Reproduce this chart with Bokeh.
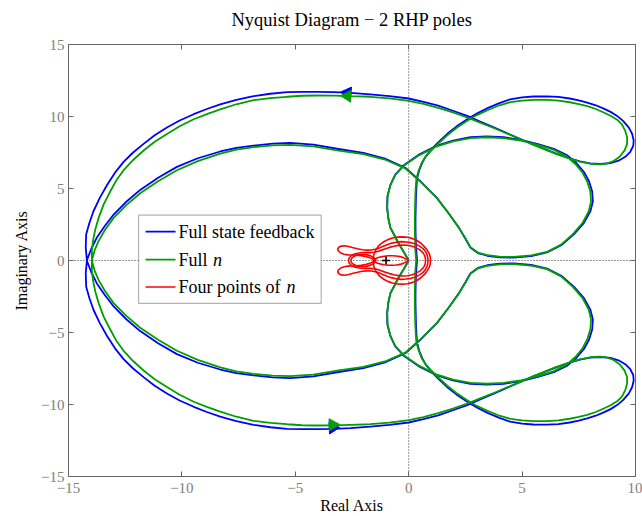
import numpy as np
from bokeh.plotting import figure
from bokeh.models import Range1d, FixedTicker, LinearAxis, Span, BoxAnnotation, Label
from bokeh.embed import file_html
from bokeh.resources import INLINE

SERIF = "Liberation Serif"
AXIS_GREY = "#666666"
LABEL_GREY = "#808080"

TITLE = "Nyquist Diagram \u2212 2 RHP poles"
x_ticks = [-15, -10, -5, 0, 5, 10]
y_ticks = [-15, -10, -5, 0, 5, 10, 15]

# Nyquist traces for w = 0 .. +inf (real part, imaginary part).
# The w < 0 branch is the complex conjugate, traversed backwards.
fsf_re = [0.37, 0.33, 0.31, 0.30, 0.30, 0.31, 0.32, 0.34, 0.37, 0.46, 0.60, 0.76, 0.96, 1.30,
          1.70, 2.10, 2.58, 3.00, 3.50, 4.00, 4.47, 5.00, 5.50, 6.10, 6.60, 7.10, 7.50, 7.87,
          8.25, 8.60, 8.90, 9.19, 9.45, 9.70, 9.85, 9.92, 9.90, 9.77, 9.55, 9.25, 8.90, 8.45,
          8.00, 7.55, 7.13, 6.50, 6.00, 5.45, 4.93, 4.35, 3.75, 3.15, 2.58, 1.95, 1.30, 0.65,
          0.00, -0.85, -1.69, -2.57, -3.30, -4.04, -4.70, -5.36, -6.10, -6.84, -7.60, -8.31,
          -8.90, -9.48, -10.10, -10.66, -11.20, -11.69, -12.15, -12.57, -12.95, -13.30, -13.62,
          -13.90, -14.08, -14.22, -14.24, -14.19,
          -14.00, -13.75, -13.40, -13.01, -12.45, -11.84, -11.05, -10.22, -9.30, -8.31, -7.60,
          -6.84, -6.00, -5.22, -4.20, -3.16, -2.00, -1.00, -0.15, 0.55, 1.25, 1.75, 2.21, 2.50,
          2.72, 3.05, 3.46, 4.00, 4.63, 5.40, 6.10, 6.75, 7.28, 7.72, 8.01, 8.12, 8.09, 7.95,
          7.72, 7.40, 6.99, 6.40, 5.66, 4.95, 4.19, 3.45, 2.72, 1.95, 1.25, 0.45, -0.22, -0.60,
          -0.81, -0.94, -0.95, -0.90, -0.81, -0.62, -0.45, -0.22, 0.00]
fsf_im = [0.00, 0.75, 1.50, 2.20, 2.96, 3.70, 4.40, 5.05, 5.70, 6.25, 6.80, 7.25, 7.64, 8.20,
          8.80, 9.30, 9.81, 10.20, 10.60, 10.93, 11.19, 11.33, 11.39, 11.40, 11.36, 11.25, 11.12,
          10.96, 10.78, 10.55, 10.32, 10.04, 9.70, 9.25, 8.80, 8.33, 7.95, 7.55, 7.20, 6.93,
          6.76, 6.70, 6.75, 6.88, 7.07, 7.42, 7.73, 8.08, 8.44, 8.83, 9.25, 9.65, 10.04, 10.40,
          10.75, 11.02, 11.25, 11.42, 11.53, 11.64, 11.69, 11.71, 11.71, 11.69, 11.58, 11.41,
          11.15, 10.84, 10.52, 10.16, 9.72, 9.24, 8.70, 8.10, 7.50, 6.85, 6.10, 5.24, 4.35,
          3.42, 2.60, 1.82, 0.90, 0.00,
          -0.80, -1.59, -2.40, -3.19, -4.08, -4.90, -5.75, -6.50, -7.10, -7.57, -7.82, -7.98,
          -8.12, -8.17, -8.05, -7.76, -7.48, -7.05, -6.44, -5.45, -4.33, -3.30, -2.28, -1.50,
          -0.90, -0.52, -0.33, -0.22, -0.20, -0.30, -0.56, -1.08, -1.82, -2.60, -3.42, -4.10,
          -4.79, -5.50, -6.16, -6.75, -7.30, -7.75, -8.10, -8.38, -8.56, -8.62, -8.56, -8.33,
          -7.98, -7.35, -6.61, -5.95, -5.24, -4.45, -3.65, -2.95, -2.28, -1.72, -1.20, -0.60,
          0.00]

fulln_re = [0.33, 0.29, 0.28, 0.27, 0.27, 0.28, 0.29, 0.31, 0.34, 0.44, 0.58, 0.75, 0.96, 1.30,
            1.70, 2.10, 2.58, 3.00, 3.50, 4.00, 4.49, 5.00, 5.50, 6.10, 6.60, 7.10, 7.50, 7.87,
            8.25, 8.60, 8.90, 9.19, 9.40, 9.55, 9.63, 9.63, 9.52, 9.30, 9.00, 8.70, 8.45, 8.00,
            7.55, 7.13, 6.50, 6.00, 5.45, 4.93, 4.35, 3.75, 3.15, 2.58, 1.95, 1.30, 0.65, 0.00,
            -0.85, -1.69, -2.57, -3.30, -4.04, -4.70, -5.36, -6.10, -6.84, -7.60, -8.31, -8.90,
            -9.48, -10.10, -10.66, -11.20, -11.69, -12.15, -12.57, -12.90, -13.16, -13.45,
            -13.67, -13.82, -13.92, -13.97, -13.97,
            -13.85, -13.67, -13.38, -13.01, -12.45, -11.84, -11.05, -10.22, -9.30, -8.31, -7.60,
            -6.84, -6.00, -5.22, -4.20, -3.16, -2.00, -1.00, -0.15, 0.55, 1.25, 1.75, 2.21, 2.50,
            2.72, 3.05, 3.46, 4.00, 4.63, 5.40, 6.10, 6.72, 7.25, 7.67, 7.94, 8.04, 8.01, 7.87,
            7.65, 7.35, 6.95, 6.38, 5.66, 4.95, 4.19, 3.45, 2.72, 1.95, 1.25, 0.45, -0.22, -0.60,
            -0.81, -0.93, -0.95, -0.90, -0.81, -0.62, -0.45, -0.22, 0.00]
fulln_im = [0.00, 0.75, 1.50, 2.20, 2.96, 3.70, 4.40, 5.05, 5.70, 6.25, 6.80, 7.22, 7.57, 8.12,
            8.70, 9.20, 9.70, 10.10, 10.45, 10.78, 11.00, 11.10, 11.15, 11.15, 11.10, 10.99, 10.86,
            10.72, 10.52, 10.28, 10.05, 9.78, 9.45, 9.00, 8.55, 8.10, 7.65, 7.20, 6.88, 6.72,
            6.67, 6.72, 6.86, 7.05, 7.40, 7.72, 8.06, 8.42, 8.80, 9.20, 9.57, 9.93, 10.28, 10.60,
            10.87, 11.08, 11.26, 11.37, 11.41, 11.45, 11.46, 11.44, 11.37, 11.27, 11.14, 10.85,
            10.50, 10.17, 9.81, 9.32, 8.79, 8.25, 7.64, 6.98, 6.27, 5.55, 4.79, 3.90, 2.96, 2.15,
            1.36, 0.68, 0.00,
            -0.70, -1.36, -2.15, -2.96, -3.85, -4.67, -5.50, -6.27, -6.90, -7.42, -7.70, -7.87,
            -8.00, -8.03, -7.92, -7.65, -7.38, -6.98, -6.40, -5.42, -4.33, -3.30, -2.30, -1.55,
            -0.93, -0.55, -0.37, -0.27, -0.25, -0.35, -0.60, -1.10, -1.85, -2.62, -3.42, -4.10,
            -4.79, -5.48, -6.14, -6.70, -7.25, -7.70, -8.05, -8.32, -8.50, -8.56, -8.50, -8.28,
            -7.93, -7.30, -6.58, -5.92, -5.22, -4.45, -3.65, -2.95, -2.28, -1.72, -1.20, -0.60,
            0.00]

# Four sampled values of n (half traces, w >= 0)
n1_re = [0.96, 0.95, 0.90, 0.80, 0.68, 0.55, 0.38, 0.18, -0.05, -0.28, -0.52, -0.72, -0.92,
         -1.08, -1.23, -1.34, -1.44, -1.50, -1.55, -1.56, -1.53, -1.47, -1.38, -1.24, -1.08,
         -0.90, -0.72, -0.55, -0.38, -0.24, -0.12, 0.00]
n1_im = [0.00, 0.25, 0.50, 0.76, 0.98, 1.18, 1.37, 1.52, 1.61, 1.64, 1.62, 1.56, 1.45, 1.32,
         1.16, 0.98, 0.76, 0.55, 0.33, 0.13, -0.03, -0.11, -0.19, -0.25, -0.30, -0.33, -0.33,
         -0.31, -0.27, -0.20, -0.11, 0.00]
n2_re = [0.85, 0.84, 0.80, 0.73, 0.62, 0.48, 0.30, 0.10, -0.10, -0.32, -0.55, -0.78, -0.98,
         -1.15, -1.30, -1.47, -1.65, -1.85, -2.05, -2.25, -2.45, -2.65, -2.82, -2.97, -3.08,
         -3.13, -3.10, -3.00, -2.85, -2.68, -2.50, -2.30, -2.10, -1.90, -1.72, -1.58, -1.50]
n2_im = [0.00, 0.22, 0.44, 0.65, 0.84, 1.00, 1.14, 1.24, 1.29, 1.31, 1.27, 1.19, 1.08, 0.97,
         0.86, 0.78, 0.73, 0.72, 0.75, 0.81, 0.89, 0.97, 1.02, 1.00, 0.92, 0.80, 0.66, 0.52,
         0.43, 0.39, 0.38, 0.37, 0.34, 0.28, 0.20, 0.10, 0.00]
n3_re = [0.74, 0.73, 0.69, 0.61, 0.49, 0.33, 0.15, -0.05, -0.25, -0.45, -0.66, -0.85, -1.03,
         -1.20, -1.36, -1.52, -1.70, -1.90, -2.10, -2.30, -2.45, -2.56, -2.63, -2.65]
n3_im = [0.00, 0.20, 0.39, 0.57, 0.74, 0.88, 0.99, 1.06, 1.08, 1.05, 0.99, 0.91, 0.81, 0.72,
         0.63, 0.57, 0.55, 0.55, 0.54, 0.49, 0.41, 0.30, 0.16, 0.00]
n4_re = [-1.45, -1.48, -1.56, -1.68, -1.83, -2.00, -2.16, -2.30, -2.42, -2.50, -2.54, -2.55]
n4_im = [0.00, 0.12, 0.23, 0.32, 0.39, 0.42, 0.41, 0.36, 0.28, 0.18, 0.08, 0.00]

# Direction arrows (position on each trace)
fsf_arrow_re = [-2.7, -3.35]
fsf_arrow_im = [11.65, -11.62]
fulln_arrow_re = [-2.7, -3.35]
fulln_arrow_im = [11.42, -11.40]

legend_labels = ["Full state feedback", "Full", "Four points of"]


def full_trace(re, im):
    re = np.asarray(re, float)
    im = np.asarray(im, float)
    xs = np.concatenate([re[::-1], re[1:]])
    ys = np.concatenate([-im[::-1], im[1:]])
    return xs, ys


def arrow_angles(xs, ys, ax, ay):
    angles = []
    for px, py in zip(ax, ay):
        i = int(np.argmin((xs - px) ** 2 + (ys - py) ** 2))
        i0, i1 = max(i - 1, 0), min(i + 1, len(xs) - 1)
        heading = np.arctan2(ys[i1] - ys[i0], xs[i1] - xs[i0])
        angles.append(heading - np.pi / 2)
    return angles


p = figure(width=642, height=516,
           x_range=Range1d(-15, 10), y_range=Range1d(-15, 15),
           output_backend="svg", toolbar_location=None,
           min_border_left=68, min_border_right=7, min_border_top=44, min_border_bottom=34,
           background_fill_color="white", border_fill_color="white")
p.grid.visible = False
p.outline_line_color = AXIS_GREY
p.outline_line_width = 1


def fmt(t):
    return ("\u2212" + str(abs(t))) if t < 0 else str(t)


def style_axis(ax, ticks, show_labels=True):
    ax.ticker = FixedTicker(ticks=ticks)
    ax.major_tick_in = 5
    ax.major_tick_out = 0
    ax.minor_tick_line_color = None
    ax.axis_line_color = AXIS_GREY
    ax.major_tick_line_color = AXIS_GREY
    ax.major_label_text_font = SERIF
    ax.major_label_text_color = LABEL_GREY
    ax.axis_label_text_font = SERIF
    ax.axis_label_text_font_style = "normal"
    ax.axis_label_text_color = "black"
    if show_labels:
        ax.major_label_text_font_size = "15px"
        ax.major_label_overrides = {t: fmt(t) for t in ticks}
        ax.major_label_standoff = 4
        ax.axis_label_text_font_size = "16px"
    else:
        ax.major_label_text_font_size = "0px"
        ax.major_label_overrides = {t: "" for t in ticks}
        ax.major_label_standoff = 0


style_axis(p.xaxis[0], x_ticks)
style_axis(p.yaxis[0], y_ticks)
p.xaxis[0].major_label_standoff = 6
p.xaxis[0].axis_label = "Real Axis"
p.xaxis[0].axis_label_standoff = 1
p.yaxis[0].axis_label = "Imaginary Axis"
p.yaxis[0].axis_label_standoff = 8

# top edge of the box carries the heading, centred over the frame
top_axis = LinearAxis()
style_axis(top_axis, x_ticks, show_labels=False)
top_axis.axis_label = TITLE
top_axis.axis_label_text_font_size = "18.5px"
top_axis.axis_label_standoff = 15
p.add_layout(top_axis, "above")
right_axis = LinearAxis()
style_axis(right_axis, y_ticks, show_labels=False)
p.add_layout(right_axis, "right")

# dotted zero lines
for dim in ("height", "width"):
    p.add_layout(Span(location=0, dimension=dim, line_color="#333333", line_width=1,
                      line_dash="1 2", level="underlay"))

BLUE, GREEN, RED = "#0000ff", "#00a000", "#ff0000"

traces = [(fsf_re, fsf_im, fsf_arrow_re, fsf_arrow_im, BLUE),
          (fulln_re, fulln_im, fulln_arrow_re, fulln_arrow_im, GREEN)]
for re, im, ar, ai, col in traces:
    xs, ys = full_trace(re, im)
    p.line(xs, ys, line_color=col, line_width=1.8)
    p.scatter(ar, ai, marker="triangle", size=12, fill_color=col, line_color=col,
              angle=arrow_angles(xs, ys, ar, ai))

for re, im in [(n1_re, n1_im), (n2_re, n2_im), (n3_re, n3_im), (n4_re, n4_im)]:
    xs, ys = full_trace(re, im)
    p.line(xs, ys, line_color=RED, line_width=1.6)

# critical point -1
p.scatter([-1], [0], marker="cross", size=8, line_color="black", line_width=1.6)

# legend box
p.add_layout(BoxAnnotation(left=-11.91, right=-3.86, top=3.15, bottom=-2.98,
                           fill_color="white", fill_alpha=1.0,
                           line_color="black", line_width=1.2))
rows = [2.0, 0.06, -1.84]
for y, col in zip(rows, [BLUE, GREEN, RED]):
    p.add_layout(BoxAnnotation(left=-11.6, right=-10.28, top=y + 0.06, bottom=y - 0.06,
                               fill_color=col, fill_alpha=1.0, line_color=None))
for y, txt in zip(rows, legend_labels):
    p.add_layout(Label(x=-10.15, y=y, text=txt, text_font=SERIF, text_font_size="18px",
                       text_baseline="middle", text_color="black"))
for y, xpos in zip(rows[1:], [-8.63, -5.39]):
    p.add_layout(Label(x=xpos, y=y, text="n", text_font=SERIF, text_font_size="18px",
                       text_font_style="italic", text_baseline="middle", text_color="black"))

open("out.html", "w").write(file_html(p, INLINE))
